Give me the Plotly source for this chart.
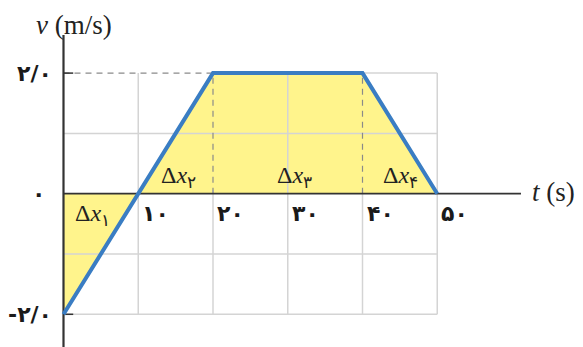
import plotly.graph_objects as go

# velocity-time data
t_vals = [0, 10, 20, 40, 50]
v_vals = [-2.0, 0.0, 2.0, 2.0, 0.0]

# axis ticks
t_ticks = [10, 20, 30, 40, 50]
t_tick_labels = ["۱۰", "۲۰", "۳۰", "۴۰", "۵۰"]
v_ticks = [2.0, 0.0, -2.0]
v_tick_labels = ["۲/۰", "۰", "-۲/۰"]
v_grid = [-2, -1, 0, 1, 2]

# displacement area labels
dx_labels = ["Δ<i>x</i><sub>۱</sub>", "Δ<i>x</i><sub>۲</sub>",
             "Δ<i>x</i><sub>۳</sub>", "Δ<i>x</i><sub>۴</sub>"]
dx_pos = [(3.9, -0.36), (15.4, 0.28), (30.9, 0.27), (45.1, 0.27)]

YELLOW = "#fff48c"
BLUE = "#3a7dc3"
GRID = "#d4d4d4"
AXIS = "#333333"
SERIF = "Liberation Serif"
DIG = "DejaVu Sans"

fig = go.Figure()

# shaded area between curve and t axis
fig.add_trace(go.Scatter(x=t_vals, y=v_vals, mode="lines", fill="tozeroy",
                         fillcolor=YELLOW, line=dict(width=0), hoverinfo="skip"))

# grid lines
for t in t_ticks:
    if t in (20, 40):
        fig.add_trace(go.Scatter(x=[t, t], y=[-2, 0.06], mode="lines",
                                 line=dict(color=GRID, width=1.5), hoverinfo="skip"))
    else:
        fig.add_trace(go.Scatter(x=[t, t], y=[-2, 2], mode="lines",
                                 line=dict(color=GRID, width=1.5), hoverinfo="skip"))
for v in v_grid:
    if v == 0:
        continue
    x0 = 20 if v == 2 else 0
    fig.add_trace(go.Scatter(x=[x0, 50], y=[v, v], mode="lines",
                             line=dict(color=GRID, width=1.5), hoverinfo="skip"))

# dashed guides
fig.add_trace(go.Scatter(x=[0, 20], y=[2, 2], mode="lines",
                         line=dict(color="#8a8a8a", width=1.2, dash="6px,5px"), hoverinfo="skip"))
for t in (20, 40):
    fig.add_trace(go.Scatter(x=[t, t], y=[0, 2], mode="lines",
                             line=dict(color="#8a8a8a", width=1.2, dash="6px,5px"), hoverinfo="skip"))

# axes
fig.add_trace(go.Scatter(x=[0, 61.2], y=[0, 0], mode="lines",
                         line=dict(color=AXIS, width=1.8), hoverinfo="skip"))
fig.add_trace(go.Scatter(x=[0, 0], y=[2.63, -2.6], mode="lines",
                         line=dict(color=AXIS, width=2.2), hoverinfo="skip"))
fig.add_trace(go.Scatter(x=[0, 1.3], y=[-2, -2], mode="lines",
                         line=dict(color=AXIS, width=1.5), hoverinfo="skip"))
fig.add_trace(go.Scatter(x=[0, 1.3], y=[2, 2], mode="lines",
                         line=dict(color=AXIS, width=1.5), hoverinfo="skip"))

# velocity curve
fig.add_trace(go.Scatter(x=t_vals, y=v_vals, mode="lines",
                         line=dict(color=BLUE, width=4), hoverinfo="skip"))

ann = []
for t, lab in zip(t_ticks, t_tick_labels):
    ann.append(dict(x=t, y=0, text="<b>" + lab + "</b>", showarrow=False, xanchor="left",
                    yanchor="middle", xshift=2, yshift=-20,
                    font=dict(family=DIG, size=22, color="#1a1a1a")))
for v, lab in zip(v_ticks, v_tick_labels):
    ann.append(dict(x=0, y=v, text="<b>" + lab + "</b>", showarrow=False, xanchor="right",
                    yanchor="middle", xshift=-10 if v != 0 else -17,
                    font=dict(family=DIG, size=22, color="#1a1a1a")))
for lab, (x, y) in zip(dx_labels, dx_pos):
    ann.append(dict(x=x, y=y, text=lab, showarrow=False, xanchor="center", yanchor="middle",
                    font=dict(family=SERIF, size=24, color="#222")))
ann.append(dict(x=1.4, y=2.80, text="<i>v</i> (m/s)", showarrow=False, xanchor="center",
                yanchor="middle", font=dict(family=SERIF, size=27, color="#222")))
ann.append(dict(x=62.4, y=0.02, text="<i>t</i> (s)", showarrow=False, xanchor="left",
                yanchor="middle", font=dict(family=SERIF, size=27, color="#222")))

px_per_t = 7.475
px_per_v = 60.3
t0_px = 63.5
v0_px = 193.7

fig.update_layout(
    width=583, height=347,
    margin=dict(l=0, r=0, t=0, b=0),
    paper_bgcolor="white", plot_bgcolor="white",
    showlegend=False,
    xaxis=dict(range=[-t0_px / px_per_t, (583 - t0_px) / px_per_t], visible=False, fixedrange=True),
    yaxis=dict(range=[-(347 - v0_px) / px_per_v, v0_px / px_per_v], visible=False, fixedrange=True),
    annotations=ann,
)

fig.write_html("out.html", config={"displayModeBar": False})
